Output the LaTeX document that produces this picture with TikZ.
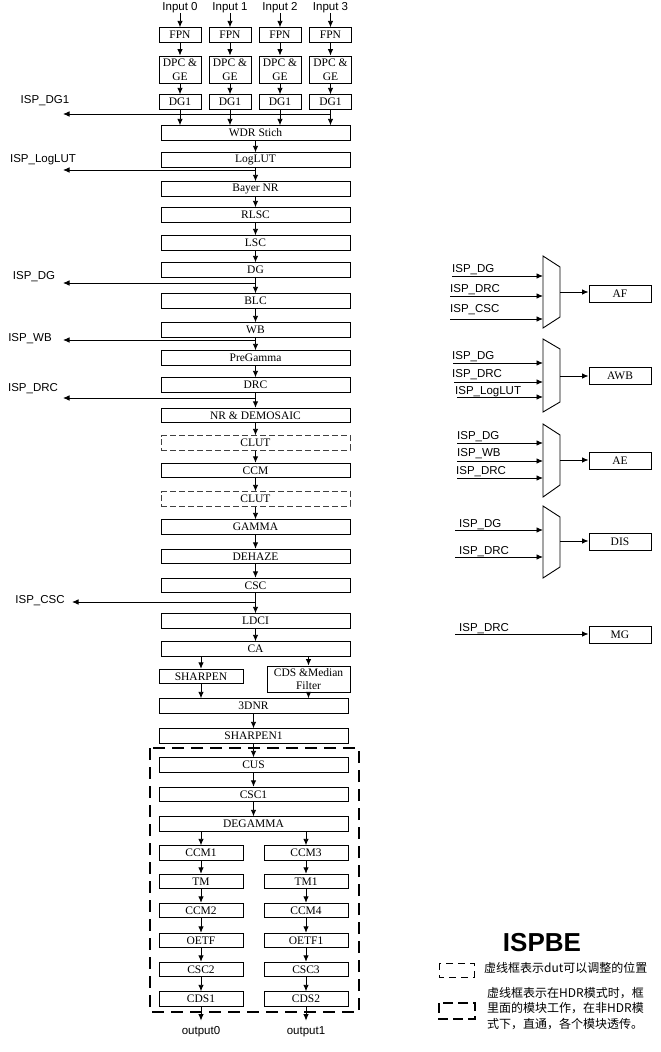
\documentclass[tikz,border=0pt]{standalone}
\usepackage{fontspec}
\setmainfont{Liberation Serif}
\setsansfont{Liberation Sans}
\newfontfamily\cjk{Noto Sans CJK SC}
\usetikzlibrary{arrows.meta}
\begin{document}
\begin{tikzpicture}[x=1pt,y=-1pt,
  box/.style={draw, line width=0.9pt, inner sep=0pt, minimum height=14.5pt, font=\fontsize{11.5}{13.5}\selectfont},
  main/.style={box, minimum width=189pt},
  small/.style={box, minimum width=42pt},
  half/.style={box, minimum width=84pt},
  rbox/.style={box, minimum width=62pt, minimum height=17pt},
  dbox/.style={main, draw=black!75, dash pattern=on 6pt off 3pt},
  arr/.style={line width=0.9pt, -{Latex[length=6.5pt,width=5.5pt]}},
  lbl/.style={font=\sffamily\fontsize{11.5}{13}\selectfont, inner sep=0pt},
  bigdash/.style={line width=2.5pt, dash pattern=on 12pt off 7pt},
  legdash/.style={line width=1pt, dash pattern=on 7pt off 5pt},
  mux/.style={line width=0.9pt}]
\useasboundingbox (0,0) rectangle (661,1052);

% ---------- input branches ----------
\foreach \i/\x in {0/180,1/230,2/280,3/330.5} {
  \node[lbl] (in\i) at (\x,7.5) {Input \i};
  \node[small] (fpn\i) at (\x,35) {FPN};
  \node[small, minimum height=27pt, align=center] (dpc\i) at (\x,69.5) {DPC \&\\GE};
  \node[small] (dga\i) at (\x,102) {DG1};
  \draw[arr] (in\i) -- (fpn\i);
  \draw[arr] (fpn\i) -- (dpc\i);
  \draw[arr] (dpc\i) -- (dga\i);
}

% ---------- main chain ----------
\node[main] (wdr) at (255.5,133) {WDR Stich};
\node[main] (loglut) at (255.5,160) {LogLUT};
\node[main] (bnr) at (255.5,189) {Bayer NR};
\node[main] (rlsc) at (255.5,215) {RLSC};
\node[main] (lsc) at (255.5,243) {LSC};
\node[main] (dg) at (255.5,270) {DG};
\node[main] (blc) at (255.5,301) {BLC};
\node[main] (wb) at (255.5,330) {WB};
\node[main] (pg) at (255.5,358) {PreGamma};
\node[main] (drc) at (255.5,385) {DRC};
\node[main] (nrdm) at (255.5,415.5) {NR \& DEMOSAIC};
\node[dbox] (clut1) at (255.5,443) {CLUT};
\node[main] (ccm) at (255.5,470.5) {CCM};
\node[dbox] (clut2) at (255.5,499) {CLUT};
\node[main] (gamma) at (255.5,527) {GAMMA};
\node[main] (dehaze) at (255.5,556.5) {DEHAZE};
\node[main] (csc) at (255.5,585.5) {CSC};
\node[main] (ldci) at (255.5,621) {LDCI};
\node[main] (ca) at (255.5,649) {CA};

\foreach \i in {0,1,2,3} { \draw[arr] (dga\i.south) -- (dga\i.south |- wdr.north); }
\foreach \a/\b in {wdr/loglut,loglut/bnr,bnr/rlsc,rlsc/lsc,lsc/dg,dg/blc,blc/wb,wb/pg,pg/drc,drc/nrdm,nrdm/clut1,clut1/ccm,ccm/clut2,clut2/gamma,gamma/dehaze,dehaze/csc,csc/ldci,ldci/ca}
  { \draw[arr] (\a) -- (\b); }

% ---------- taps to the left ----------
\coordinate (dg1end) at (63,114);
\coordinate (lutend) at (63,170);
\coordinate (dgend) at (63,283);
\coordinate (wbend) at (63,340);
\coordinate (drcend) at (63,398);
\coordinate (cscend) at (72,602);
\draw[arr] (dga3.south |- dg1end) -- (dg1end);
\draw[arr] (loglut.south |- lutend) -- (lutend);
\draw[arr] (dg.south |- dgend) -- (dgend);
\draw[arr] (wb.south |- wbend) -- (wbend);
\draw[arr] (drc.south |- drcend) -- (drcend);
\draw[arr] (csc.south |- cscend) -- (cscend);
\node[lbl] (tdg1) at (45,101) {ISP\_DG1};
\node[lbl] (tlut) at (43,160) {ISP\_LogLUT};
\node[lbl] (tdg) at (34,277) {ISP\_DG};
\node[lbl] (twb) at (30,339) {ISP\_WB};
\node[lbl] (tdrc) at (33,389) {ISP\_DRC};
\node[lbl] (tcsc) at (40,601) {ISP\_CSC};

% ---------- lower part ----------
\node[half] (sharpen) at (201,676.5) {SHARPEN};
\node[box, minimum width=83pt, minimum height=26pt, align=center, font=\fontsize{11.5}{13}\selectfont] (cds) at (308.5,679) {CDS \&Median\\Filter};
\node[main] (dnr) at (253.5,706) {3DNR};
\node[main] (sh1) at (253.5,736) {SHARPEN1};
\node[main] (cus) at (253.5,765) {CUS};
\node[main] (csc1) at (253.5,794.5) {CSC1};
\node[main] (degamma) at (253.5,824) {DEGAMMA};

\draw[arr] (ca.south -| sharpen.north) -- (sharpen.north);
\draw[arr] (ca.south -| cds.north) -- (cds.north);
\draw[arr] (sharpen.south) -- (sharpen.south |- dnr.north);
\draw[arr] (cds.south) -- (cds.south |- dnr.north);
\foreach \a/\b in {dnr/sh1,sh1/cus,cus/csc1,csc1/degamma} { \draw[arr] (\a) -- (\b); }

\foreach \n/\t/\y in {ccma/CCM1/853,tma/TM/881.5,ccmb/CCM2/910.5,oetfa/OETF/940.5,csca/CSC2/969.5,cdsa/CDS1/999}
  { \node[half] (\n) at (201,\y) {\t}; }
\foreach \n/\t/\y in {ccmc/CCM3/853,tmb/TM1/881.5,ccmd/CCM4/910.5,oetfb/OETF1/940.5,cscb/CSC3/969.5,cdsb/CDS2/999}
  { \node[half] (\n) at (306,\y) {\t}; }
\draw[arr] (degamma.south -| ccma.north) -- (ccma.north);
\draw[arr] (degamma.south -| ccmc.north) -- (ccmc.north);
\foreach \a/\b in {ccma/tma,tma/ccmb,ccmb/oetfa,oetfa/csca,csca/cdsa,ccmc/tmb,tmb/ccmd,ccmd/oetfb,oetfb/cscb,cscb/cdsb}
  { \draw[arr] (\a) -- (\b); }
\node[lbl] (out0) at (201,1032) {output0};
\node[lbl] (out1) at (306,1032) {output1};
\draw[arr, shorten >=6pt] (cdsa) -- (out0);
\draw[arr, shorten >=6pt] (cdsb) -- (out1);

\draw[bigdash] (150,748) rectangle (359,1012);

% ---------- right side: muxes ----------
\node[rbox] (af) at (620,293.5) {AF};
\node[rbox] (awb) at (620,375.5) {AWB};
\node[rbox] (ae) at (620,461) {AE};
\node[rbox] (dis) at (620,541.5) {DIS};
\node[rbox] (mg) at (620,634.5) {MG};

% mux 1
\draw[mux] (543,256) coordinate (m1) -- (560,267) -- (560,317) -- (543,328) -- cycle;
\coordinate (m1o) at (560,292);
\coordinate (a11) at (452,276);
\coordinate (a12) at (450,296);
\coordinate (a13) at (450,319);
\foreach \c in {a11,a12,a13} { \draw[arr] (\c) -- (\c -| m1); }
\draw[arr] (m1o) -- (m1o -| af.west);
\node[lbl, anchor=base west] (l11) at (452,272) {ISP\_DG};
\node[lbl, anchor=base west] (l12) at (450,292) {ISP\_DRC};
\node[lbl, anchor=base west] (l13) at (450,312) {ISP\_CSC};

% mux 2
\draw[mux] (543,339) coordinate (m2) -- (560,349) -- (560,402) -- (543,412) -- cycle;
\coordinate (m2o) at (560,376);
\coordinate (a21) at (453,363);
\coordinate (a22) at (454,382);
\coordinate (a23) at (457,397);
\foreach \c in {a21,a22,a23} { \draw[arr] (\c) -- (\c -| m2); }
\draw[arr] (m2o) -- (m2o -| awb.west);
\node[lbl, anchor=base west] (l21) at (452,359) {ISP\_DG};
\node[lbl, anchor=base west] (l22) at (452,377) {ISP\_DRC};
\node[lbl, anchor=base west] (l23) at (455,394) {ISP\_LogLUT};

% mux 3
\draw[mux] (543,424) coordinate (m3) -- (560,435) -- (560,485) -- (543,497) -- cycle;
\coordinate (m3o) at (560,460);
\coordinate (a31) at (457,443);
\coordinate (a32) at (457,461);
\coordinate (a33) at (457,478);
\foreach \c in {a31,a32,a33} { \draw[arr] (\c) -- (\c -| m3); }
\draw[arr] (m3o) -- (m3o -| ae.west);
\node[lbl, anchor=base west] (l31) at (457,439) {ISP\_DG};
\node[lbl, anchor=base west] (l32) at (457,456) {ISP\_WB};
\node[lbl, anchor=base west] (l33) at (456,474) {ISP\_DRC};

% mux 4
\draw[mux] (543,506) coordinate (m4) -- (560,517) -- (560,567) -- (543,578) -- cycle;
\coordinate (m4o) at (560,541);
\coordinate (a41) at (455,530);
\coordinate (a42) at (455,557);
\foreach \c in {a41,a42} { \draw[arr] (\c) -- (\c -| m4); }
\draw[arr] (m4o) -- (m4o -| dis.west);
\node[lbl, anchor=base west] (l41) at (459,527) {ISP\_DG};
\node[lbl, anchor=base west] (l42) at (459,554) {ISP\_DRC};

% MG
\coordinate (a51) at (455,634);
\draw[arr] (a51) -- (a51 -| mg.west);
\node[lbl, anchor=base west] (l51) at (459,631) {ISP\_DRC};

% ---------- legend ----------
\node[font=\sffamily\bfseries\fontsize{26}{26}\selectfont, inner sep=0pt] (ispbe) at (542,943) {ISPBE};
\draw[legdash] (439,963) rectangle (474,977);
\node[anchor=west, inner sep=0pt, font=\cjk\fontsize{12}{14}\selectfont] (leg1) at (484,968) {虚线框表示dut可以调整的位置};
\draw[line width=2.5pt, dash pattern=on 10pt off 5pt] (439,1003) rectangle (475,1019);
\node[anchor=north west, inner sep=0pt, align=left, font=\cjk\fontsize{12}{15.5}\selectfont] (leg2) at (487,987) {虚线框表示在HDR模式时，框\\里面的模块工作，在非HDR模\\式下，直通，各个模块透传。};
\end{tikzpicture}
\end{document}
